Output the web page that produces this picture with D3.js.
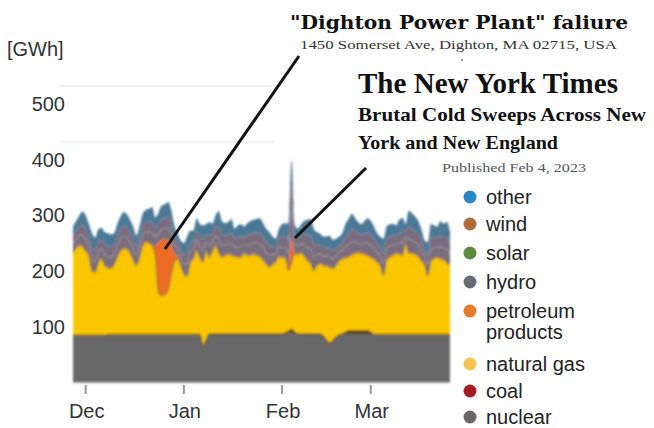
<!DOCTYPE html>
<html><head><meta charset="utf-8">
<script src="https://cdn.jsdelivr.net/npm/d3@7"></script>
<style>
html,body{margin:0;padding:0;background:#fff;}
svg{display:block;}
</style></head>
<body>
<svg id="chart" width="654" height="428"></svg>
<script>
// ---------------- DATA (daily GWh, Nov 27 2022 – Mar 26 2023) ----------------
const startDate = new Date(2022, 10, 27);
const endDate = new Date(2023, 2, 27);
const nuclear = [84,84,84,84,84,84,84,84,84,84,84,85,85,85,85,85,85,85,85,85,85,85,85,85,85,85,85,85,85,85,85,85,85,85,85,85,85,85,85,85,85,66,74,86,86,86,86,86,86,86,86,86,86,86,86,86,86,86,86,86,86,86,86,86,86,86,86,87,88,88,87,86,86,86,86,86,86,86,86,82,75,70,74,80,84,86,87,87,87,87,87,87,87,87,87,85,85,85,85,85,85,85,85,85,85,85,85,85,85,85,85,85,85,85,85,85,85,85,85,85];
const coal = [1,1,1,1,1,1,1,1,1,1,1,1,1,1,1,1,1,1,1,1,1,1,1,1,1,1,1,1,1,1,1,1,1,1,1,1,1,1,1,1,1,1,1,1,1,1,1,1,1,1,1,1,1,1,1,1,1,1,1,1,1,1,1,1,1,1,1,2,4,7,3,1,1,1,1,1,1,1,1,1,1,1,1,1,1,1,3,6,6,6,6,6,6,6,3,1,1,1,1,1,1,1,1,1,1,1,1,1,1,1,1,1,1,1,1,1,1,1,1,1];
const naturalGas = [149,155,161,159,151,143,115,113,130,137,125,120,119,126,139,150,154,154,146,134,124,139,159,166,164,160,139,76,70,72,79,106,130,136,124,109,104,129,136,151,139,149,161,138,149,159,145,138,141,143,141,139,138,137,145,141,141,143,141,139,133,125,120,125,129,139,137,135,109,120,140,143,145,141,131,127,114,123,126,127,133,136,129,129,133,135,134,132,136,138,140,139,137,135,134,136,130,124,106,134,139,142,146,144,142,164,146,146,144,140,132,126,106,132,136,139,136,134,129,124];
const petroleum = [2,2,2,2,2,2,2,2,2,2,2,2,2,2,2,2,2,2,2,2,2,2,2,2,2,2,20,90,100,100,92,55,15,5,2,2,2,2,2,2,2,2,2,2,2,2,2,2,2,2,2,2,2,2,2,2,2,2,2,2,2,2,2,2,2,2,2,2,8,45,2,2,2,2,2,2,2,2,2,2,2,2,2,2,2,2,2,2,2,2,2,2,2,2,2,2,2,2,2,2,2,2,2,2,2,2,2,2,2,2,2,2,2,2,2,2,2,2,2,2];
const hydro = [13,14,15,18,18,16,19,17,17,16,17,17,17,16,17,17,19,17,17,17,15,15,16,16,17,20,15,15,18,18,20,18,15,12,12,15,20,16,14,16,17,19,13,18,14,15,22,18,16,16,19,14,16,17,13,16,17,17,19,20,19,18,18,14,11,14,17,17,22,60,15,13,14,17,21,23,21,17,15,14,15,16,14,13,12,13,17,20,21,18,15,14,17,19,19,16,14,14,19,17,17,16,14,17,19,9,22,20,19,18,16,12,17,19,17,15,19,18,21,17];
const solar = [2,2,2,2,2,2,2,2,2,2,2,2,2,2,2,2,2,2,2,2,2,2,2,2,2,2,2,2,2,2,2,2,2,2,2,2,2,2,2,2,2,2,2,2,2,2,2,2,2,2,2,2,2,2,2,2,2,2,2,2,2,2,2,2,2,2,2,2,2,2,2,2,2,2,2,2,2,2,2,2,2,2,2,2,2,2,2,2,2,2,2,2,2,2,2,2,2,2,2,2,2,2,2,2,2,2,2,2,2,2,2,2,2,2,2,2,2,2,2,2];
const wind = [12,14,15,17,18,16,19,18,17,15,17,18,17,15,17,18,18,18,17,17,15,16,16,16,18,19,14,16,18,18,19,19,14,11,13,16,21,16,14,16,17,18,13,17,13,15,21,19,16,16,18,14,16,17,13,16,18,18,18,19,18,18,17,14,12,14,17,18,22,45,14,12,15,18,21,23,22,17,15,15,14,16,15,13,12,12,17,19,21,19,16,15,17,19,18,16,15,15,18,17,16,16,14,18,19,10,22,21,19,18,16,11,17,19,17,16,19,19,21,17];
const other = [17,18,20,24,24,21,26,23,22,21,22,23,23,21,22,23,25,23,22,22,20,20,22,22,23,26,20,20,24,24,26,24,20,16,16,20,27,22,18,22,22,25,18,24,18,20,29,24,22,22,25,18,21,22,18,22,23,23,25,26,25,24,24,18,15,18,22,23,30,33,20,17,19,23,28,30,28,22,20,19,20,21,19,18,16,17,23,26,28,24,20,19,22,25,25,22,19,19,25,22,22,21,18,23,26,12,29,27,26,24,21,16,22,25,22,20,26,24,27,22];

const seriesKeys = ["nuclear","coal","naturalGas","petroleum","hydro","solar","wind","other"];
const seriesColors = ["#686868","#5c4a1e","#f9c600","#ec6c26","#796d7e","#77706e","#7a6c7f","#4b7895"];
const legendLabels = ["other","wind","solar","hydro","petroleum|products","natural gas","coal","nuclear"];
const legendColors = ["#2b86c4","#b06b3a","#5d8a3c","#6b6b73","#e8782c","#f3c550","#a21d22","#6b6666"];
const yTicks = [100,200,300,400,500];
const monthTicks = [new Date(2022,11,1), new Date(2023,0,1), new Date(2023,1,1), new Date(2023,2,1)];

// ---------------- BUILD ----------------
const days = d3.timeDay.range(startDate, endDate);
const source = {nuclear, coal, naturalGas, petroleum, hydro, solar, wind, other};
const table = days.map((date, i) => {
  const row = {date};
  seriesKeys.forEach(k => row[k] = source[k][i]);
  return row;
});

const svg = d3.select("#chart");
const x = d3.scaleTime().domain([startDate, days[days.length-1]]).range([73, 450]);
const y = d3.scaleLinear().domain([0, 500]).range([382.5, 104]);

const font = "'Liberation Sans', Arial, sans-serif";
const serif = "'Liberation Serif', 'DejaVu Serif', serif";

// faint gridlines
svg.append("g").selectAll("line").data([400,500]).join("line")
  .attr("x1", 60).attr("x2", 275)
  .attr("y1", d => y(d) - 18).attr("y2", d => y(d) - 18)
  .attr("stroke", "#f1f1f1").attr("stroke-width", 2);

const stack = d3.stack().keys(seriesKeys)(table);
const area = d3.area()
  .x(d => x(d.data.date))
  .y0(d => y(d[0])).y1(d => y(d[1]))
  .curve(d3.curveMonotoneX);

const blur = svg.append("defs").append("filter").attr("id","soft")
  .attr("x","-5%").attr("y","-5%").attr("width","110%").attr("height","110%");
blur.append("feGaussianBlur").attr("stdDeviation", 0.9);

const gArea = svg.append("g").attr("filter","url(#soft)");
gArea.selectAll("path").data(stack).join("path")
  .attr("d", area)
  .attr("fill", (d,i) => seriesColors[i]);

// dark edge on top of gas and on nuclear/coal
const edge = d3.line().x(d => x(d.data.date)).y(d => y(d[1])).curve(d3.curveMonotoneX);
gArea.append("path").datum(stack[2]).attr("d", edge)
  .attr("fill","none").attr("stroke","#7d6a2a").attr("stroke-width",1.4).attr("opacity",0.65);
gArea.append("path").datum(stack[1]).attr("d", edge)
  .attr("fill","none").attr("stroke","#5a4a1c").attr("stroke-width",1.5).attr("opacity",0.8);

// y axis labels
svg.append("g").selectAll("text").data(yTicks).join("text")
  .attr("x", 65).attr("y", d => y(d) + 7)
  .attr("text-anchor","end")
  .attr("font-family", font).attr("font-size", 20).attr("fill","#333")
  .text(d => d);
svg.append("text").attr("x", 7).attr("y", 56)
  .attr("font-family", font).attr("font-size", 20).attr("fill","#333")
  .text("[GWh]");

// x axis
const xAxis = svg.append("g");
xAxis.selectAll("line").data(monthTicks).join("line")
  .attr("x1", d => x(d)).attr("x2", d => x(d))
  .attr("y1", 385).attr("y2", 394)
  .attr("stroke","#999").attr("stroke-width",2);
xAxis.selectAll("text").data(monthTicks).join("text")
  .attr("x", d => x(d) + 1).attr("y", 418)
  .attr("text-anchor","middle")
  .attr("font-family", font).attr("font-size", 20).attr("fill","#333")
  .text(d => d3.timeFormat("%b")(d));

// legend
const legendY = [197, 224, 253, 282, 311, 364, 391, 417];
const lg = svg.append("g");
legendLabels.forEach((lab, i) => {
  lg.append("circle").attr("cx", 470).attr("cy", legendY[i]).attr("r", 6.5)
    .attr("fill", legendColors[i]);
  const parts = lab.split("|");
  parts.forEach((p, j) => {
    lg.append("text").attr("x", 486).attr("y", legendY[i] + 7 + j*21)
      .attr("font-family", font).attr("font-size", 20).attr("fill","#222")
      .text(p);
  });
});

// annotations
svg.append("line").attr("x1", 299).attr("y1", 56).attr("x2", 165).attr("y2", 249)
  .attr("stroke","#111").attr("stroke-width",3);
svg.append("line").attr("x1", 366).attr("y1", 168).attr("x2", 295).attr("y2", 238)
  .attr("stroke","#111").attr("stroke-width",3);

svg.append("text").attr("x", 290).attr("y", 29)
  .attr("font-family", "'DejaVu Serif', serif").attr("font-weight","bold").attr("font-size", 19)
  .attr("textLength", 338).attr("lengthAdjust","spacingAndGlyphs").attr("fill","#111")
  .text("\"Dighton Power Plant\" faliure");
svg.append("text").attr("x", 300).attr("y", 49)
  .attr("font-family", serif).attr("font-size", 12)
  .attr("textLength", 317).attr("lengthAdjust","spacingAndGlyphs").attr("fill","#333")
  .text("1450 Somerset Ave, Dighton, MA 02715, USA");
svg.append("circle").attr("cx", 462).attr("cy", 60).attr("r", 1).attr("fill","#777");
svg.append("text").attr("x", 358).attr("y", 93)
  .attr("font-family", serif).attr("font-weight","bold").attr("font-size", 30)
  .attr("textLength", 260).attr("lengthAdjust","spacingAndGlyphs").attr("fill","#111")
  .text("The New York Times");
svg.append("text").attr("x", 358).attr("y", 121)
  .attr("font-family", serif).attr("font-weight","bold").attr("font-size", 19)
  .attr("textLength", 288).attr("lengthAdjust","spacingAndGlyphs").attr("fill","#111")
  .text("Brutal Cold Sweeps Across New");
svg.append("text").attr("x", 358).attr("y", 149)
  .attr("font-family", serif).attr("font-weight","bold").attr("font-size", 19)
  .attr("textLength", 200).attr("lengthAdjust","spacingAndGlyphs").attr("fill","#111")
  .text("York and New England");
svg.append("text").attr("x", 442).attr("y", 172)
  .attr("font-family", serif).attr("font-size", 11.5)
  .attr("textLength", 144).attr("lengthAdjust","spacingAndGlyphs").attr("fill","#555")
  .text("Published Feb 4, 2023");
</script>
</body></html>
